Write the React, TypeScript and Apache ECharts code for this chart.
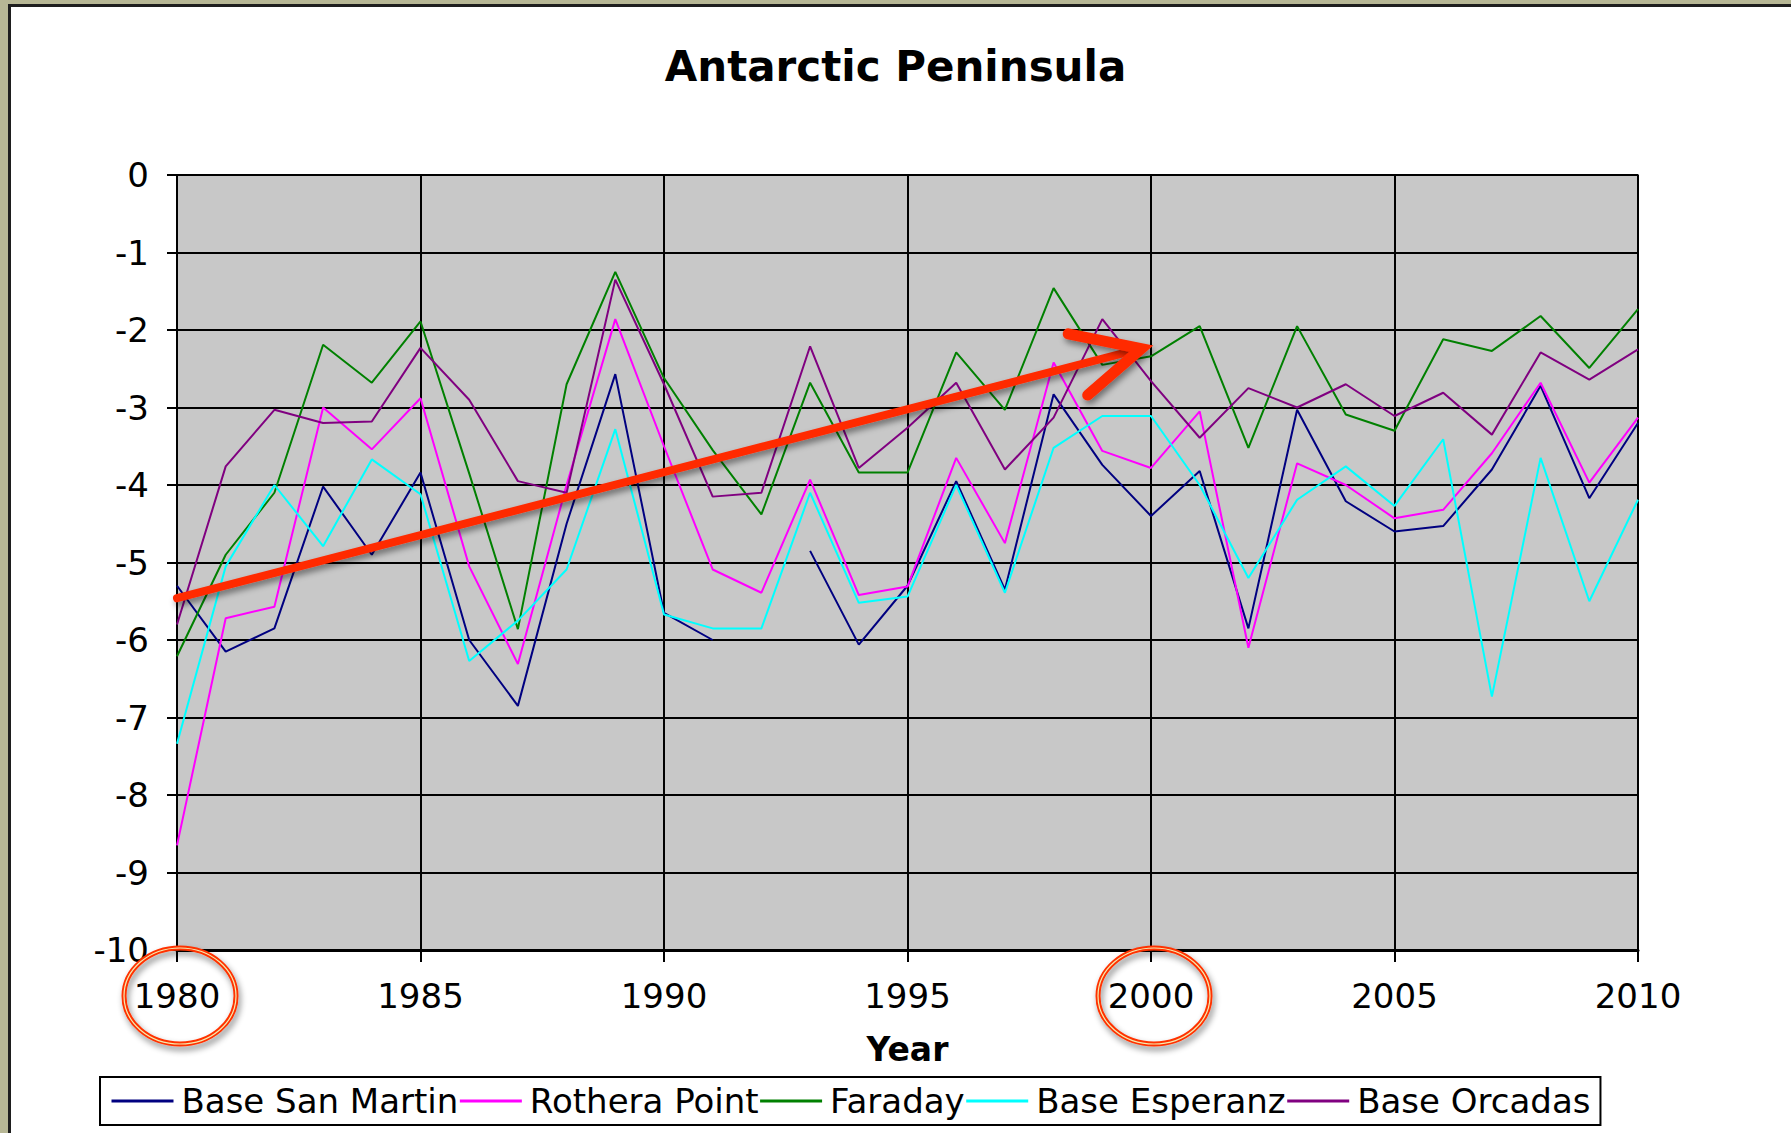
import React, { useEffect, useRef } from "react";
import * as echarts from "echarts";

const years = [1980, 1981, 1982, 1983, 1984, 1985, 1986, 1987, 1988, 1989, 1990, 1991, 1992, 1993, 1994, 1995, 1996, 1997, 1998, 1999, 2000, 2001, 2002, 2003, 2004, 2005, 2006, 2007, 2008, 2009, 2010];

const baseSanMartin = [-5.3, -6.15, -5.85, -4.02, -4.9, -3.84, -6.0, -6.85, -4.5, -2.57, -5.65, -6.0, null, -4.85, -6.06, -5.3, -3.95, -5.35, -2.83, -3.74, -4.4, -3.82, -5.85, -3.03, -4.21, -4.6, -4.53, -3.8, -2.72, -4.17, -3.2];
const rotheraPoint = [-8.65, -5.72, -5.57, -3.0, -3.54, -2.88, -5.05, -6.31, -4.0, -1.86, -3.5, -5.09, -5.39, -3.93, -5.42, -5.31, -3.65, -4.75, -2.42, -3.56, -3.78, -3.05, -6.1, -3.72, -4.0, -4.43, -4.32, -3.59, -2.68, -3.97, -3.13];
const faraday = [-6.21, -4.9, -4.1, -2.19, -2.68, -1.89, -3.85, -5.86, -2.7, -1.25, -2.62, -3.55, -4.38, -2.68, -3.84, -3.84, -2.29, -3.03, -1.46, -2.45, -2.34, -1.95, -3.52, -1.95, -3.09, -3.3, -2.12, -2.27, -1.82, -2.49, -1.73];
const baseEsperanza = [-7.34, -5.05, -4.0, -4.79, -3.67, -4.12, -6.27, -5.75, -5.09, -3.28, -5.67, -5.85, -5.85, -4.1, -5.52, -5.44, -4.0, -5.39, -3.52, -3.11, -3.11, -4.0, -5.2, -4.19, -3.76, -4.27, -3.41, -6.73, -3.65, -5.5, -4.19];
const baseOrcadas = [-5.8, -3.76, -3.03, -3.2, -3.18, -2.23, -2.9, -3.95, -4.1, -1.35, -2.7, -4.15, -4.1, -2.21, -3.78, -3.26, -2.68, -3.8, -3.13, -1.86, -2.66, -3.39, -2.75, -3.0, -2.7, -3.11, -2.81, -3.35, -2.29, -2.64, -2.25];

const seriesNames = ["Base San Martin", "Rothera Point", "Faraday", "Base Esperanz", "Base Orcadas"];
const seriesColors = ["#000080", "#ff00ff", "#008000", "#00ffff", "#800080"];
const seriesValues = [baseSanMartin, rotheraPoint, faraday, baseEsperanza, baseOrcadas];

// annotation (data coordinates)
const arrowStart = [1980, -5.46];
const arrowShaftEnd = [1999.5, -2.29];
const arrowTip = [1999.8, -2.24];
const arrowArmUpper = [1998.3, -2.05];
const arrowArmLower = [1998.7, -2.84];
const circledYears = [1980, 2000];

const FONT = "'DejaVu Sans', Verdana, sans-serif";

export default function App() {
  const ref = useRef<HTMLDivElement>(null);

  useEffect(() => {
    if (!ref.current) return;
    const chart = echarts.init(ref.current, null, { renderer: "svg" });
    const option: any = {
      animation: false,
      backgroundColor: "transparent",
      title: {
        text: "Antarctic Peninsula",
        left: "center",
        top: 40,
        textStyle: { fontFamily: FONT, fontWeight: "bold", fontSize: 42, color: "#000" },
      },
      grid: {
        left: 177,
        right: 153,
        top: 175,
        bottom: 183,
        show: true,
        backgroundColor: "#c8c8c8",
        borderColor: "#8a8a8a",
        borderWidth: 2,
      },
      xAxis: {
        type: "value",
        min: 1980,
        max: 2010,
        interval: 5,
        name: "Year",
        nameLocation: "middle",
        nameGap: 83,
        nameTextStyle: { fontFamily: FONT, fontWeight: "bold", fontSize: 33, color: "#000" },
        axisLine: { show: true, onZero: false, lineStyle: { color: "#000", width: 3 } },
        axisTick: { show: true, length: 12, lineStyle: { color: "#000", width: 2 } },
        axisLabel: { margin: 29, fontSize: 34, color: "#000", fontFamily: FONT, formatter: (v: number) => String(v) },
        splitLine: { show: true, lineStyle: { color: "#000", width: 2 } },
      },
      yAxis: {
        type: "value",
        min: -10,
        max: 0,
        interval: 1,
        axisLine: { show: true, onZero: false, lineStyle: { color: "#000", width: 2 } },
        axisTick: { show: true, length: 10, lineStyle: { color: "#000", width: 2 } },
        axisLabel: { margin: 28, fontSize: 34, color: "#000", fontFamily: FONT },
        splitLine: { show: true, lineStyle: { color: "#000", width: 2 } },
      },
      legend: {
        left: 100,
        top: 1077,
        orient: "horizontal",
        padding: [5, 10, 5, 10],
        itemGap: 0,
        itemWidth: 62,
        itemHeight: 14,
        borderColor: "#000",
        borderWidth: 2,
        backgroundColor: "#fff",
        itemStyle: { opacity: 0 },
        lineStyle: { width: 3 },
        textStyle: { fontFamily: FONT, fontSize: 34, color: "#000", lineHeight: 38, padding: [0, 0, 0, 3] },
        data: seriesNames,
      },
      series: seriesNames.map((name, k) => ({
        name,
        type: "line",
        symbol: "none",
        showSymbol: false,
        connectNulls: false,
        color: seriesColors[k],
        lineStyle: { color: seriesColors[k], width: 2 },
        data: years.map((y, i) => [y, seriesValues[k][i]]),
        z: 3,
      })),
    };
    chart.setOption(option);

    const px = (p: number[]) => chart.convertToPixel({ gridIndex: 0 }, p) as number[];
    const s = px(arrowStart);
    const e = px(arrowShaftEnd);
    const t = px(arrowTip);
    const a1 = px(arrowArmUpper);
    const a2 = px(arrowArmLower);
    const shadow = { shadowBlur: 6, shadowOffsetX: 2, shadowOffsetY: 4, shadowColor: "rgba(0,0,0,0.45)" };
    const graphics: any[] = [
      {
        type: "line",
        silent: true,
        z: 50,
        shape: { x1: s[0], y1: s[1], x2: e[0], y2: e[1] },
        style: { stroke: "#ff2a00", lineWidth: 8, lineCap: "round", ...shadow },
      },
      {
        type: "polyline",
        silent: true,
        z: 51,
        shape: { points: [a1, t, a2] },
        style: { stroke: "#ff2a00", fill: null, lineWidth: 11, lineCap: "round", lineJoin: "miter", ...shadow },
      },
    ];
    circledYears.forEach((yr) => {
      const c = px([yr, -10]);
      const cx = c[0] + 3;
      const cy = c[1] + 46;
      graphics.push({
        type: "ellipse",
        silent: true,
        z: 50,
        shape: { cx, cy, rx: 56, ry: 48 },
        style: { stroke: "#ff3300", fill: null, lineWidth: 5, ...shadow },
      });
      graphics.push({
        type: "ellipse",
        silent: true,
        z: 51,
        shape: { cx, cy, rx: 56, ry: 48 },
        style: { stroke: "#f4ecb0", fill: null, lineWidth: 1.2 },
      });
    });
    chart.setOption({ graphic: graphics });

    return () => chart.dispose();
  }, []);

  return (
    <div style={{ position: "fixed", left: 0, top: 0, width: 1791, height: 1133, background: "#b7b795", overflow: "hidden" }}>
      <div style={{ position: "absolute", left: 8, top: 4, right: 0, bottom: 0, background: "#1e1e1e" }} />
      <div style={{ position: "absolute", left: 11, top: 7, right: 0, bottom: 0, background: "#ffffff" }} />
      <div ref={ref} style={{ position: "absolute", left: 0, top: 0, width: 1791, height: 1133 }} />
    </div>
  );
}
